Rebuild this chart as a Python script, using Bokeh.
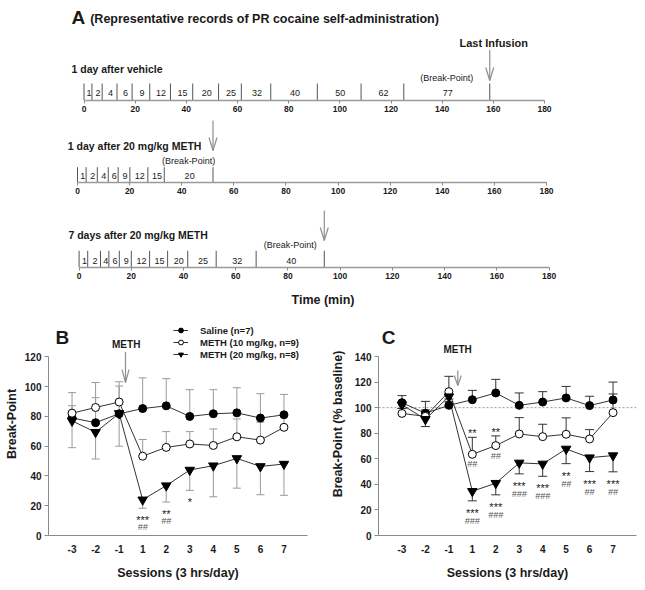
from bokeh.plotting import figure
from bokeh.layouts import column, row
from bokeh.models import Range1d, FixedTicker, Span, Label, Legend, LegendItem
from bokeh.core.properties import value
from bokeh.embed import file_html
from bokeh.resources import INLINE

# ---------------- data ----------------
TIME_TICKS = [0, 20, 40, 60, 80, 100, 120, 140, 160, 180]

# infusion times (min) of the three representative records, and the ratio of each interval
VEH_INFUSIONS = [0, 3.1, 7.1, 12.9, 18.8, 25.7, 33.8, 42.5, 52.6, 61.5, 73.0, 91.2, 108.3, 125.0, 158.6]
VEH_RATIOS = ["1", "2", "4", "6", "9", "12", "15", "20", "25", "32", "40", "50", "62", "77"]
METH1_INFUSIONS = [0, 3.3, 7.6, 11.8, 15.6, 20.1, 27.0, 33.3, 52.0]
METH1_RATIOS = ["1", "2", "4", "6", "9", "12", "15", "20"]
METH7_INFUSIONS = [0, 3.3, 8.2, 11.4, 15.4, 20.0, 27.0, 33.9, 41.6, 52.5, 67.8, 93.9]
METH7_RATIOS = ["1", "2", "4", "6", "9", "12", "15", "20", "25", "32", "40"]
RECORD_TITLES = ["1 day after vehicle", "1 day after 20 mg/kg METH", "7 days after 20 mg/kg METH"]

SESSIONS = ["-3", "-2", "-1", "1", "2", "3", "4", "5", "6", "7"]
LEGEND_LABELS = ["Saline (n=7)", "METH (10 mg/kg, n=9)", "METH (20 mg/kg, n=8)"]

# Panel B: break-point
B_SALINE = [79, 75.8, 81.8, 85.3, 87.1, 80.0, 81.8, 82.4, 78.9, 81.1]
B_SALINE_SEM = [17, 27, 21.5, 20.6, 18.3, 18, 16.2, 16.9, 16.4, 13.7]
B_METH10 = [82.2, 86.0, 89.7, 53.3, 59.2, 61.5, 60.5, 66.3, 64.1, 72.7]
B_METH10_SEM = [5, 6.6, 10.7, 11.2, 10.6, 8.3, 11.1, 12, 12, 8]
B_METH20 = [77.0, 69.4, 82.0, 24.0, 33.5, 44.0, 46.9, 51.8, 46.4, 48.0]
B_METH20_SEM = [18, 18, 22, 5.7, 11, 13.7, 20.9, 20, 19, 21]
B_Y_TICKS = [0, 20, 40, 60, 80, 100, 120]
B_SIG_SESSIONS = ["1", "2", "3"]
B_SIG_STARS = ["***", "**", "*"]
B_SIG_HASH = ["##", "##", ""]

# Panel C: break-point (% baseline)
C_SALINE = [103.9, 95.6, 101.8, 106.2, 111.5, 101.8, 104.4, 107.6, 101.6, 106.0]
C_SALINE_SEM = [5.5, 9.3, 5, 7.3, 10.6, 9.7, 8.1, 9, 7.3, 14]
C_METH10 = [95.5, 93.2, 112.5, 63.5, 70.3, 79.4, 77.3, 79.2, 75.5, 96.1]
C_METH10_SEM = [4, 5, 12, 13.3, 7.6, 12.8, 9.7, 12.8, 7.3, 14.6]
C_METH20 = [102.3, 90.9, 108.6, 34.6, 40.9, 56.8, 56.0, 67.7, 60.9, 62.5]
C_METH20_SEM = [3, 5.7, 4, 7.5, 9.1, 8.6, 9.7, 11.5, 10.9, 12.7]
C_Y_TICKS = [0, 20, 40, 60, 80, 100, 120, 140]
C_BASELINE = 100
C_M10_SIG_SESSIONS = ["1", "2"]
C_M10_SIG_STARS = ["**", "**"]
C_M10_SIG_HASH = ["##", "##"]
C_M20_SIG_SESSIONS = ["1", "2", "3", "4", "5", "6", "7"]
C_M20_SIG_STARS = ["***", "***", "***", "***", "**", "***", "***"]
C_M20_SIG_HASH = ["###", "###", "###", "###", "##", "##", "##"]

# ---------------- style ----------------
FONT = "Liberation Sans"
W = 645
AX_GRAY = "#8a8a8a"
ARROW_GRAY = "#8f8f8f"
INK = "#1a1a1a"


def base_fig(width, height, x_range, y_range, left, right, top, bottom, y_axis=True):
    p = figure(width=width, height=height, x_range=x_range, y_range=y_range,
               toolbar_location=None, output_backend="svg",
               y_axis_location="left" if y_axis else None,
               min_border_left=left, min_border_right=right,
               min_border_top=top, min_border_bottom=bottom)
    p.outline_line_color = None
    p.xgrid.visible = False
    p.ygrid.visible = False
    p.background_fill_color = "white"
    p.border_fill_color = "white"
    return p


def down_arrow(p, x, y_top, y_tip, head_len, head_hw, sx, sy):
    hx = head_hw / sx
    hy = head_len / sy
    p.segment(x0=[x, x - hx, x + hx], y0=[y_top, y_tip + hy, y_tip + hy],
              x1=[x, x, x], y1=[y_tip, y_tip, y_tip],
              line_color=ARROW_GRAY, line_width=1.2)


def timeline(height, axis_y, zero_px, end_px, infusions, ratios, title, title_x, title_y,
             tick_h, ratio_y, bp_y, arrow_top, arrow_tip, xlabel=None):
    s = (end_px - zero_px) / (TIME_TICKS[-1] - TIME_TICKS[0])
    x_start = TIME_TICKS[0] - zero_px / s
    p = base_fig(W, height, Range1d(x_start, x_start + W / s), Range1d(0, axis_y),
                 0, 0, 0, height - axis_y, y_axis=False)
    ax = p.xaxis[0]
    ax.bounds = (TIME_TICKS[0], TIME_TICKS[-1])
    ax.ticker = FixedTicker(ticks=TIME_TICKS)
    ax.minor_tick_line_color = None
    ax.major_tick_out = 3
    ax.major_tick_in = 0
    ax.major_tick_line_color = AX_GRAY
    ax.axis_line_color = "#9a9a9a"
    ax.axis_line_width = 1.5
    ax.major_label_standoff = 2
    ax.major_label_text_font = FONT
    ax.major_label_text_font_size = "8.5px"
    ax.major_label_text_font_style = "bold"
    ax.major_label_text_color = INK
    if xlabel:
        ax.axis_label = xlabel
        ax.axis_label_text_font = FONT
        ax.axis_label_text_font_size = "12.5px"
        ax.axis_label_text_font_style = "bold"
        ax.axis_label_text_color = INK
        ax.axis_label_standoff = 11

    # infusion ticks
    p.segment(x0=infusions, y0=0, x1=infusions, y1=tick_h, line_color="#555555", line_width=1)
    mids = [(infusions[i] + infusions[i + 1]) / 2 for i in range(len(ratios))]
    p.text(x=mids, y=ratio_y, text=ratios, x_offset=1, text_align="center",
           text_baseline="middle", text_font=value(FONT), text_font_size="9px",
           text_color=INK)
    p.text(x=[mids[-1]], y=bp_y, text=["(Break-Point)"], text_align="center",
           text_baseline="middle", text_font=value(FONT), text_font_size="9px",
           text_color=INK)
    down_arrow(p, infusions[-1], arrow_top, arrow_tip, 13, 4, s, 1.0)
    p.add_layout(Label(x=title_x, y=title_y, x_units="screen", y_units="screen", text=title,
                       text_font=FONT, text_font_size="10.5px", text_font_style="bold",
                       text_baseline="middle", text_align="left", text_color=INK))
    return p, s


# ---------------- panel A ----------------
pA1, sA1 = timeline(118, 100, 83.5, 544, VEH_INFUSIONS, VEH_RATIOS, RECORD_TITLES[0], 71, 31.7,
                    17, 7.7, 22.7, 50.7, 20)
pA1.add_layout(Label(x=71, y=83, x_units="screen", y_units="screen", text="A",
                     text_font=FONT, text_font_size="19px", text_font_style="bold",
                     text_baseline="middle", text_color=INK))
pA1.add_layout(Label(x=89.7, y=81.7, x_units="screen", y_units="screen",
                     text="(Representative records of PR cocaine self-administration)",
                     text_font=FONT, text_font_size="12.5px", text_font_style="bold",
                     text_baseline="middle", text_color=INK))
pA1.add_layout(Label(x=VEH_INFUSIONS[-1], y=57.3, x_offset=4, text="Last Infusion",
                     text_font=FONT, text_font_size="11px", text_font_style="bold",
                     text_baseline="middle", text_align="center", text_color=INK))

pA2, _ = timeline(82, 64, 77, 546, METH1_INFUSIONS, METH1_RATIOS, RECORD_TITLES[1], 67.3, 37,
                  15.3, 7, 21.3, 62, 32)
pA3, _ = timeline(112, 67, 78.6, 548.6, METH7_INFUSIONS, METH7_RATIOS, RECORD_TITLES[2], 67.9, 32.7,
                  16.7, 7, 22.7, 57, 27, xlabel="Time (min)")


# ---------------- panels B and C ----------------
def errbars(p, xs, ys, errs, direction, color, cap):
    ends = [y + direction * e for y, e in zip(ys, errs)]
    p.segment(x0=xs, y0=ys, x1=xs, y1=ends, line_color=color, line_width=1)
    p.scatter(x=xs, y=ends, marker="dash", size=cap, line_color=color, line_width=1)


def session_panel(width, height, frame_left, frame_w, frame_h, axis_px, y_ticks, ylabel,
                  label_standoff_y):
    n = len(SESSIONS)
    yr_top = y_ticks[-1] * frame_h / axis_px
    p = base_fig(width, height, Range1d(0, n + 1), Range1d(0, yr_top),
                 frame_left, width - frame_left - frame_w, 0, height - frame_h)
    xa, ya = p.xaxis[0], p.yaxis[0]
    xa.ticker = FixedTicker(ticks=list(range(1, n + 1)))
    xa.major_label_overrides = {i + 1: s for i, s in enumerate(SESSIONS)}
    xa.major_tick_out = 0
    xa.major_tick_in = 0
    xa.minor_tick_line_color = None
    xa.major_label_standoff = 9
    xa.axis_label = "Sessions (3 hrs/day)"
    xa.axis_label_standoff = 10
    ya.bounds = (y_ticks[0], y_ticks[-1])
    ya.ticker = FixedTicker(ticks=y_ticks)
    ya.minor_tick_line_color = None
    ya.major_tick_out = 4
    ya.major_tick_in = 0
    ya.major_label_standoff = 3
    ya.axis_label = ylabel
    ya.axis_label_standoff = label_standoff_y
    for a in (xa, ya):
        a.axis_line_color = AX_GRAY
        a.major_tick_line_color = AX_GRAY
        a.major_label_text_font = FONT
        a.major_label_text_font_size = "10px"
        a.major_label_text_font_style = "bold"
        a.major_label_text_color = INK
        a.axis_label_text_font = FONT
        a.axis_label_text_font_size = "12.5px"
        a.axis_label_text_font_style = "bold"
        a.axis_label_text_color = INK
    sx = frame_w / (n + 1)
    sy = axis_px / y_ticks[-1]
    return p, sx, sy


def draw_series(p, xs, sal, sal_e, m10, m10_e, m20, m20_e, err_color, cap):
    errbars(p, xs, sal, sal_e, 1, err_color, cap)
    errbars(p, xs, m10, m10_e, 1, err_color, cap)
    errbars(p, xs, m20, m20_e, -1, err_color, cap)
    rl = []
    for ys in (sal, m10, m20):
        rl.append(p.line(xs, ys, line_color="#333333", line_width=1))
    r1 = p.scatter(xs, sal, marker="circle", size=8, fill_color="black", line_color="black")
    r2 = p.scatter(xs, m10, marker="circle", size=8, fill_color="white", line_color="black")
    r3 = p.scatter(xs, m20, marker="inverted_triangle", size=9.5, fill_color="black", line_color="black")
    return [(rl[0], r1), (rl[1], r2), (rl[2], r3)]


def sig_text(p, sessions, marks, ys, offset, size, color, style="normal"):
    xs = [SESSIONS.index(s) + 1 for s in sessions]
    p.text(x=xs, y=ys, text=marks, y_offset=offset, text_align="center",
           text_baseline="middle", text_font=value(FONT), text_font_size=size,
           text_color=color, text_font_style=style)


XS = list(range(1, len(SESSIONS) + 1))

# Panel B
pB, sxB, syB = session_panel(320, 276, 48, 259, 226, 181, B_Y_TICKS, "Break-Point", 3)
pairs = draw_series(pB, XS, B_SALINE, B_SALINE_SEM, B_METH10, B_METH10_SEM, B_METH20, B_METH20_SEM,
                    "#9a9a9a", 8)
low_b = [B_METH20[SESSIONS.index(s)] - B_METH20_SEM[SESSIONS.index(s)] for s in B_SIG_SESSIONS]
sig_text(pB, B_SIG_SESSIONS, B_SIG_STARS, low_b, 12, "11px", INK)
sig_text(pB, B_SIG_SESSIONS, B_SIG_HASH, low_b, 19, "9px", "#555555", "italic")
legend = Legend(items=[LegendItem(label=lab, renderers=list(pr)) for lab, pr in zip(LEGEND_LABELS, pairs)],
                location=(125, 175), orientation="vertical", glyph_width=15, glyph_height=12,
                label_height=12, label_width=10, label_standoff=12, spacing=0, padding=0, margin=0,
                border_line_color=None, background_fill_alpha=0,
                label_text_font=FONT, label_text_font_size="9.5px", label_text_font_style="bold",
                label_text_color=INK)
pB.add_layout(legend)
pB.add_layout(Label(x=0.59, y=133.3, text="B", text_font=FONT, text_font_size="19px",
                    text_font_style="bold", text_align="center", text_baseline="middle", text_color=INK))
pB.add_layout(Label(x=3.3, y=128.6, text="METH", text_font=FONT, text_font_size="10px",
                    text_font_style="bold", text_align="center", text_baseline="middle", text_color=INK))
down_arrow(pB, 3.27, 123.3, 102.8, 13, 3.5, sxB, syB)

# Panel C
pC, sxC, syC = session_panel(325, 276, 58, 258, 223, 179, C_Y_TICKS, "Break-Point (% baseline)", 7)
pC.add_layout(Span(location=C_BASELINE, dimension="width", line_color="#9a9a9a",
                   line_dash="2 2", line_width=1, level="underlay"))
draw_series(pC, XS, C_SALINE, C_SALINE_SEM, C_METH10, C_METH10_SEM, C_METH20, C_METH20_SEM,
            "#333333", 9)
up_c10 = [C_METH10[SESSIONS.index(s)] + C_METH10_SEM[SESSIONS.index(s)] for s in C_M10_SIG_SESSIONS]
mid_c10 = [C_METH10[SESSIONS.index(s)] for s in C_M10_SIG_SESSIONS]
sig_text(pC, C_M10_SIG_SESSIONS, C_M10_SIG_STARS, up_c10, -4, "11px", INK)
sig_text(pC, C_M10_SIG_SESSIONS, C_M10_SIG_HASH, mid_c10, 10, "9px", "#555555", "italic")
low_c20 = [C_METH20[SESSIONS.index(s)] - C_METH20_SEM[SESSIONS.index(s)] for s in C_M20_SIG_SESSIONS]
sig_text(pC, C_M20_SIG_SESSIONS, C_M20_SIG_STARS, low_c20, 12, "11px", INK)
sig_text(pC, C_M20_SIG_SESSIONS, C_M20_SIG_HASH, low_c20, 20, "9px", "#555555", "italic")
pC.add_layout(Label(x=0.43, y=154.9, text="C", text_font=FONT, text_font_size="19px",
                    text_font_style="bold", text_align="center", text_baseline="middle", text_color=INK))
pC.add_layout(Label(x=3.37, y=145.7, text="METH", text_font=FONT, text_font_size="10px",
                    text_font_style="bold", text_align="center", text_baseline="middle", text_color=INK))
down_arrow(pC, 3.38, 129, 117.3, 10, 3.5, sxC, syC)

layout = column(pA1, pA2, pA3, row(pB, pC))
open("out.html", "w").write(file_html(layout, INLINE))
